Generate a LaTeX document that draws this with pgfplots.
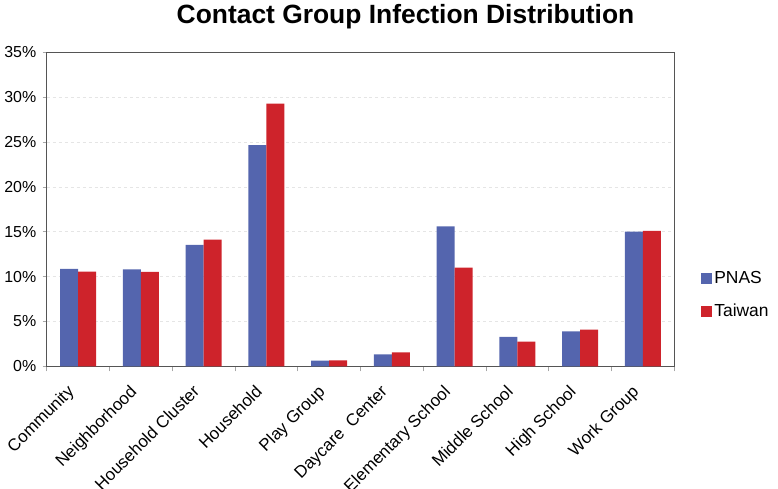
\documentclass[border=0pt]{standalone}
\usepackage{fontspec}
\setmainfont{Liberation Sans}
\usepackage{pgfplots}
\pgfplotsset{compat=1.18}
\definecolor{pnas}{RGB}{84,101,174}
\definecolor{taiwan}{RGB}{206,35,43}
\definecolor{framec}{RGB}{85,85,85}
\pgfplotsset{sqlegend/.style={legend image code/.code={\fill[##1,draw=none] (0bp,-5.5bp) rectangle (11bp,5.5bp);}}}
\begin{document}
\begin{tikzpicture}
\path[use as bounding box] (-46.7bp,-122.7bp) rectangle (731.3bp,366.3bp);
\begin{axis}[
  at={(0,0)}, anchor=south west,
  scale only axis, width=627.6bp, height=314bp,
  ybar=0pt, bar width=18bp,
  xmin=-0.5, xmax=9.5, ymin=0, ymax=35,
  ytick={0,5,...,35},
  yticklabel={\pgfmathprintnumber{\tick}\%},
  xtick={0,...,9},
  xticklabels={Community, Neighborhood, Household Cluster, Household, Play Group, Daycare\ \ Center, Elementary School, Middle School, High School, Work Group},
  minor xtick={-0.5,0.5,...,9.5},
  major x tick style={draw=none},
  xtick pos=bottom, ytick pos=left,
  tick align=outside, minor tick length=5bp, major tick length=4bp,
  tick style={gray!70, line width=0.6bp},
  ymajorgrids, grid style={dashed, gray!20, line width=0.6bp},
  axis line style={framec, line width=0.9bp},
  /pgf/number format/assume math mode=true,
  xticklabel style={xshift=-12bp, yshift=-12bp, rotate=45, anchor=north east, font=\fontsize{17}{20}\selectfont, inner sep=1bp},
  yticklabel style={font=\fontsize{16}{18}\selectfont, xshift=-3bp},
  legend style={at={(1.038,0.227)}, anchor=west, draw=none, fill=none,
    font=\fontsize{17.5}{20}\selectfont, row sep=15bp, legend cell align=left,
    /tikz/every even column/.append style={column sep=6bp}},
]
\addplot[fill=pnas, draw=none, sqlegend]
  coordinates {(0,10.85) (1,10.81) (2,13.53) (3,24.64) (4,0.63) (5,1.34) (6,15.61) (7,3.27) (8,3.90) (9,15.01)};
\addplot[fill=taiwan, draw=none, sqlegend]
  coordinates {(0,10.55) (1,10.52) (2,14.12) (3,29.28) (4,0.67) (5,1.56) (6,11.00) (7,2.75) (8,4.09) (9,15.09)};
\legend{PNAS, Taiwan}
\end{axis}
\node[anchor=base, font=\bfseries\fontsize{26.5}{30}\selectfont] at (358.8bp,342.3bp) {Contact Group Infection Distribution};
\end{tikzpicture}
\end{document}
